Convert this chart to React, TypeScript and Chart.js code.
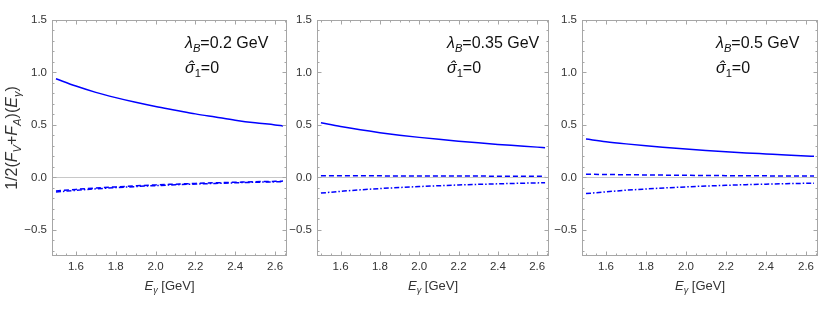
import React, { useEffect, useRef } from "react";
import { Chart, registerables } from "chart.js";

Chart.register(...registerables);

// ---- data ----
const E_GAMMA = [1.5, 1.6, 1.7, 1.8, 1.9, 2.0, 2.1, 2.2, 2.3, 2.4, 2.5, 2.6, 2.64];

const SOLID_L02 = [0.94, 0.87, 0.81, 0.76, 0.715, 0.675, 0.64, 0.605, 0.575, 0.545, 0.52, 0.5, 0.49];
const DASH_L02 = [-0.13, -0.115, -0.102, -0.091, -0.081, -0.072, -0.065, -0.058, -0.052, -0.047, -0.042, -0.038, -0.036];
const DOTDASH_L02 = [-0.14, -0.124, -0.11, -0.098, -0.088, -0.079, -0.071, -0.064, -0.058, -0.052, -0.047, -0.043, -0.041];

const SOLID_L035 = [0.52, 0.484, 0.453, 0.426, 0.402, 0.381, 0.362, 0.345, 0.329, 0.314, 0.301, 0.288, 0.283];
const DASH_L035 = [0.015, 0.015, 0.014, 0.014, 0.013, 0.013, 0.012, 0.012, 0.012, 0.011, 0.011, 0.01, 0.01];
const DOTDASH_L035 = [-0.15, -0.134, -0.119, -0.107, -0.097, -0.088, -0.08, -0.073, -0.067, -0.062, -0.057, -0.053, -0.051];

const SOLID_L05 = [0.365, 0.34, 0.319, 0.3, 0.284, 0.269, 0.256, 0.244, 0.233, 0.223, 0.213, 0.204, 0.2];
const DASH_L05 = [0.03, 0.027, 0.025, 0.023, 0.021, 0.019, 0.018, 0.016, 0.015, 0.014, 0.013, 0.012, 0.012];
const DOTDASH_L05 = [-0.155, -0.138, -0.123, -0.111, -0.1, -0.091, -0.083, -0.076, -0.07, -0.065, -0.06, -0.057, -0.056];

const LAMBDA_B = ["0.2", "0.35", "0.5"];
const X_TICKS = [1.6, 1.8, 2.0, 2.2, 2.4, 2.6];
const Y_TICKS = [-0.5, 0, 0.5, 1.0, 1.5];
const X_MIN = 1.48;
const X_MAX = 2.66;
const Y_MIN = -0.75;
const Y_MAX = 1.5;

const FONT = "'Liberation Sans', Arial, sans-serif";
const BLUE = "rgb(0,0,255)";
const H = 309;

type Part = { t: string; it?: boolean; sub?: boolean; hat?: boolean; size: number };

function partFont(p: Part) {
  const s = p.sub ? p.size * 0.7 : p.size;
  return `${p.it ? "italic " : ""}${s}px ${FONT}`;
}

function richWidth(ctx: CanvasRenderingContext2D, parts: Part[]) {
  let w = 0;
  for (const p of parts) {
    ctx.font = partFont(p);
    w += ctx.measureText(p.t).width;
  }
  return w;
}

function drawRich(ctx: CanvasRenderingContext2D, parts: Part[], x: number, y: number) {
  let cx = x;
  ctx.textAlign = "left";
  ctx.textBaseline = "alphabetic";
  for (const p of parts) {
    ctx.font = partFont(p);
    const w = ctx.measureText(p.t).width;
    ctx.fillText(p.t, cx, p.sub ? y + p.size * 0.25 : y);
    if (p.hat) {
      ctx.textAlign = "center";
      ctx.fillText("\u02C6", cx + w / 2 + 1, y + p.size * 0.02);
      ctx.textAlign = "left";
    }
    cx += w;
  }
}

type PanelCfg = {
  left: number;
  width: number;
  axisW: number;
  padRight: number;
  solid: number[];
  dash: number[];
  dotdash: number[];
  lambda: string;
  yTitle: boolean;
};

const PANELS: PanelCfg[] = [
  { left: 0, width: 300, axisW: 52, padRight: 13, solid: SOLID_L02, dash: DASH_L02, dotdash: DOTDASH_L02, lambda: LAMBDA_B[0], yTitle: true },
  { left: 260, width: 300, axisW: 57, padRight: 11, solid: SOLID_L035, dash: DASH_L035, dotdash: DOTDASH_L035, lambda: LAMBDA_B[1], yTitle: false },
  { left: 530, width: 292, axisW: 52, padRight: 4, solid: SOLID_L05, dash: DASH_L05, dotdash: DOTDASH_L05, lambda: LAMBDA_B[2], yTitle: false },
];

function fmt(v: number) {
  return v < 0 ? "\u2212" + Math.abs(v).toFixed(1) : v.toFixed(1);
}

function makePlugin(cfg: PanelCfg) {
  return {
    id: "mmaFrame",
    beforeDatasetsDraw(chart: any) {
      const { ctx, chartArea: a, scales } = chart;
      const y0 = Math.round(scales.y.getPixelForValue(0)) + 0.5;
      ctx.save();
      ctx.strokeStyle = "#c8c8c8";
      ctx.lineWidth = 1;
      ctx.beginPath();
      ctx.moveTo(a.left, y0);
      ctx.lineTo(a.right, y0);
      ctx.stroke();
      ctx.restore();
    },
    afterDraw(chart: any) {
      const { ctx, chartArea: a, scales } = chart;
      const xs = scales.x;
      const ys = scales.y;
      ctx.save();
      // frame
      ctx.strokeStyle = "#a6a6a6";
      ctx.lineWidth = 1;
      const L = Math.round(a.left) + 0.5;
      const R = Math.round(a.right) - 0.5;
      const T = Math.round(a.top) + 0.5;
      const B = Math.round(a.bottom) - 0.5;
      ctx.strokeRect(L, T, R - L, B - T);
      // ticks
      ctx.beginPath();
      for (let i = 0; i <= 30; i++) {
        const v = 1.45 + i * 0.05;
        if (v < X_MIN || v > X_MAX) continue;
        const major = Math.abs(Math.round(v * 5) - v * 5) < 1e-6;
        const len = major ? 4 : 2;
        const px = Math.round(xs.getPixelForValue(v)) + 0.5;
        ctx.moveTo(px, B);
        ctx.lineTo(px, B - len);
        ctx.moveTo(px, T);
        ctx.lineTo(px, T + len);
      }
      for (let i = 0; i <= 30; i++) {
        const v = -0.7 + i * 0.1;
        if (v < Y_MIN - 1e-9 || v > Y_MAX + 1e-9) continue;
        const major = Math.abs(Math.round(v * 2) - v * 2) < 1e-6;
        const len = major ? 4 : 2;
        const py = Math.round(ys.getPixelForValue(v)) + 0.5;
        ctx.moveTo(L, py);
        ctx.lineTo(L + len, py);
        ctx.moveTo(R, py);
        ctx.lineTo(R - len, py);
      }
      ctx.stroke();

      // annotation
      ctx.fillStyle = "#111";
      const ax = a.right - 102;
      drawRich(
        ctx,
        [
          { t: "\u03BB", it: true, size: 16 },
          { t: "B", it: true, sub: true, size: 16 },
          { t: "=" + cfg.lambda + " GeV", size: 16 },
        ],
        ax,
        48
      );
      drawRich(
        ctx,
        [
          { t: "\u03C3", it: true, hat: true, size: 16 },
          { t: "1", sub: true, size: 16 },
          { t: "=0", size: 16 },
        ],
        ax,
        73
      );

      // x title
      ctx.fillStyle = "#333";
      const xt: Part[] = [
        { t: "E", it: true, size: 13 },
        { t: "\u03B3", it: true, sub: true, size: 13 },
        { t: " [GeV]", size: 13 },
      ];
      const xw = richWidth(ctx, xt);
      drawRich(ctx, xt, (a.left + a.right) / 2 - xw / 2, 290);

      // y title
      if (cfg.yTitle) {
        const fs = 16;
        const yt: Part[] = [
          { t: "1/2(", size: fs },
          { t: "F", it: true, size: fs },
          { t: "V", it: true, sub: true, size: fs },
          { t: "+", size: fs },
          { t: "F", it: true, size: fs },
          { t: "A", it: true, sub: true, size: fs },
          { t: ")(", size: fs },
          { t: "E", it: true, size: fs },
          { t: "\u03B3", it: true, sub: true, size: fs },
          { t: ")", size: fs },
        ];
        const yw = richWidth(ctx, yt);
        ctx.translate(17, (a.top + a.bottom) / 2);
        ctx.rotate(-Math.PI / 2);
        drawRich(ctx, yt, -yw / 2, 0);
      }
      ctx.restore();
    },
  };
}

function Panel({ cfg }: { cfg: PanelCfg }) {
  const ref = useRef<HTMLCanvasElement>(null);
  useEffect(() => {
    const toPts = (arr: number[]) => E_GAMMA.map((x, i) => ({ x, y: arr[i] }));
    const common = {
      borderColor: BLUE,
      borderWidth: 1.5,
      pointRadius: 0,
      fill: false,
      cubicInterpolationMode: "monotone" as const,
    };
    const chart = new Chart(ref.current!, {
      type: "line",
      data: {
        datasets: [
          { ...common, data: toPts(cfg.solid) },
          { ...common, data: toPts(cfg.dash), borderDash: [5, 3] },
          { ...common, data: toPts(cfg.dotdash), borderDash: [5, 2, 1.5, 2] },
        ],
      },
      options: {
        animation: false,
        responsive: false,
        devicePixelRatio: 1,
        layout: { padding: { left: 0, right: cfg.padRight, top: 20, bottom: 0 } },
        plugins: { legend: { display: false }, tooltip: { enabled: false } },
        scales: {
          x: {
            type: "linear",
            min: X_MIN,
            max: X_MAX,
            afterBuildTicks: (s: any) => {
              s.ticks = X_TICKS.map((v) => ({ value: v }));
            },
            afterFit: (s: any) => {
              s.height = H - 256;
            },
            ticks: {
              callback: (v: any) => fmt(Number(v)),
              autoSkip: false,
              maxRotation: 0,
              padding: 4,
              color: "#333",
              font: { size: 11.5, family: FONT },
            },
            grid: { display: false, drawTicks: false },
            border: { display: false },
          },
          y: {
            type: "linear",
            min: Y_MIN,
            max: Y_MAX,
            afterBuildTicks: (s: any) => {
              s.ticks = Y_TICKS.map((v) => ({ value: v }));
            },
            afterFit: (s: any) => {
              s.width = cfg.axisW;
            },
            ticks: {
              callback: (v: any) => fmt(Number(v)),
              autoSkip: false,
              padding: 5,
              color: "#333",
              font: { size: 11.5, family: FONT },
            },
            grid: { display: false, drawTicks: false },
            border: { display: false },
          },
        },
      },
      plugins: [makePlugin(cfg)],
    });
    return () => chart.destroy();
  }, [cfg]);
  return (
    <canvas
      ref={ref}
      width={cfg.width}
      height={H}
      style={{ position: "absolute", left: cfg.left, top: 0, width: cfg.width, height: H }}
    />
  );
}

export default function App() {
  return (
    <div style={{ position: "fixed", left: 0, top: 0, width: 822, height: H, background: "#fff" }}>
      {PANELS.map((p, i) => (
        <Panel key={i} cfg={p} />
      ))}
    </div>
  );
}
